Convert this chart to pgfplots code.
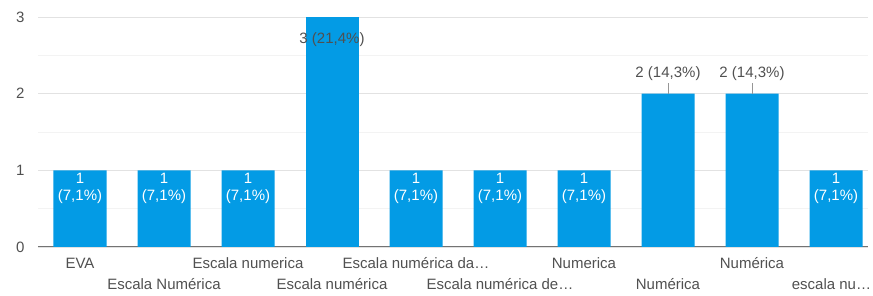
\documentclass[border=0pt]{standalone}
\usepackage{fontspec}
\setmainfont{Liberation Sans}
\usepackage{pgfplots}
\pgfplotsset{compat=1.18}
\definecolor{barblue}{RGB}{3,155,229}
\definecolor{txt}{RGB}{80,80,80}
\definecolor{gridc}{RGB}{226,226,226}
\definecolor{mgridc}{RGB}{243,243,243}
\begin{document}
\begin{tikzpicture}
\useasboundingbox (-38pt,-49pt) rectangle (835pt,247pt);
\begin{axis}[
  scale only axis, width=830pt, height=230pt,
  xmin=-0.5, xmax=9.381, ymin=0, ymax=3,
  ybar, bar width=53pt, bar shift=0pt,
  axis x line*=bottom, axis y line*=left,
  axis line style={-},
  x axis line style={draw=txt!80, line width=1pt},
  y axis line style={draw=none},
  ytick={0,1,2,3}, minor ytick={0.5,1.5,2.5},
  ymajorgrids, yminorgrids,
  major grid style={gridc, line width=0.8pt},
  minor grid style={mgridc, line width=0.8pt},
  major tick length=0pt, minor tick length=0pt,
  /pgf/number format/assume math mode=true,
  xtick={0,1,2,3,4,5,6,7,8,9},
  xticklabels={{\strut EVA},{\strut\\\strut Escala Numérica},{\strut Escala numerica},{\strut\\\strut Escala numérica},{\strut Escala numérica da…},{\strut\\\strut Escala numérica de…},{\strut Numerica},{\strut\\\strut Numérica},{\strut Numérica},{\strut\\\strut\hspace*{-9pt}escala nu…}},
  tick label style={font=\fontsize{15}{21}\selectfont, text=txt},
  xticklabel style={align=center, anchor=north, inner sep=3pt, yshift=-4pt},
  yticklabel style={xshift=-10pt},
]
\addplot[fill=barblue, draw=none,
  nodes near coords={1\\(7,1\%)},
  every node near coord/.append style={anchor=north, text=white, align=center, font=\fontsize{15}{17}\selectfont, inner sep=3pt}]
  coordinates {(0,1) (1,1) (2,1) (4,1) (5,1) (6,1) (9,1)};
\addplot[fill=barblue, draw=none,
  nodes near coords={3 (21,4\%)},
  every node near coord/.append style={anchor=north, yshift=-13pt, text=txt, font=\fontsize{15}{17}\selectfont, inner sep=2pt}]
  coordinates {(3,3)};
\addplot[fill=barblue, draw=none,
  nodes near coords={2 (14,3\%)},
  every node near coord/.append style={anchor=base, yshift=16pt, text=txt, font=\fontsize{15}{17}\selectfont, inner sep=2pt}]
  coordinates {(7,2) (8,2)};
\draw[txt!60, line width=0.8pt] (axis cs:7,2) -- ++(0pt,11pt);
\draw[txt!60, line width=0.8pt] (axis cs:8,2) -- ++(0pt,11pt);
\end{axis}
\end{tikzpicture}
\end{document}
